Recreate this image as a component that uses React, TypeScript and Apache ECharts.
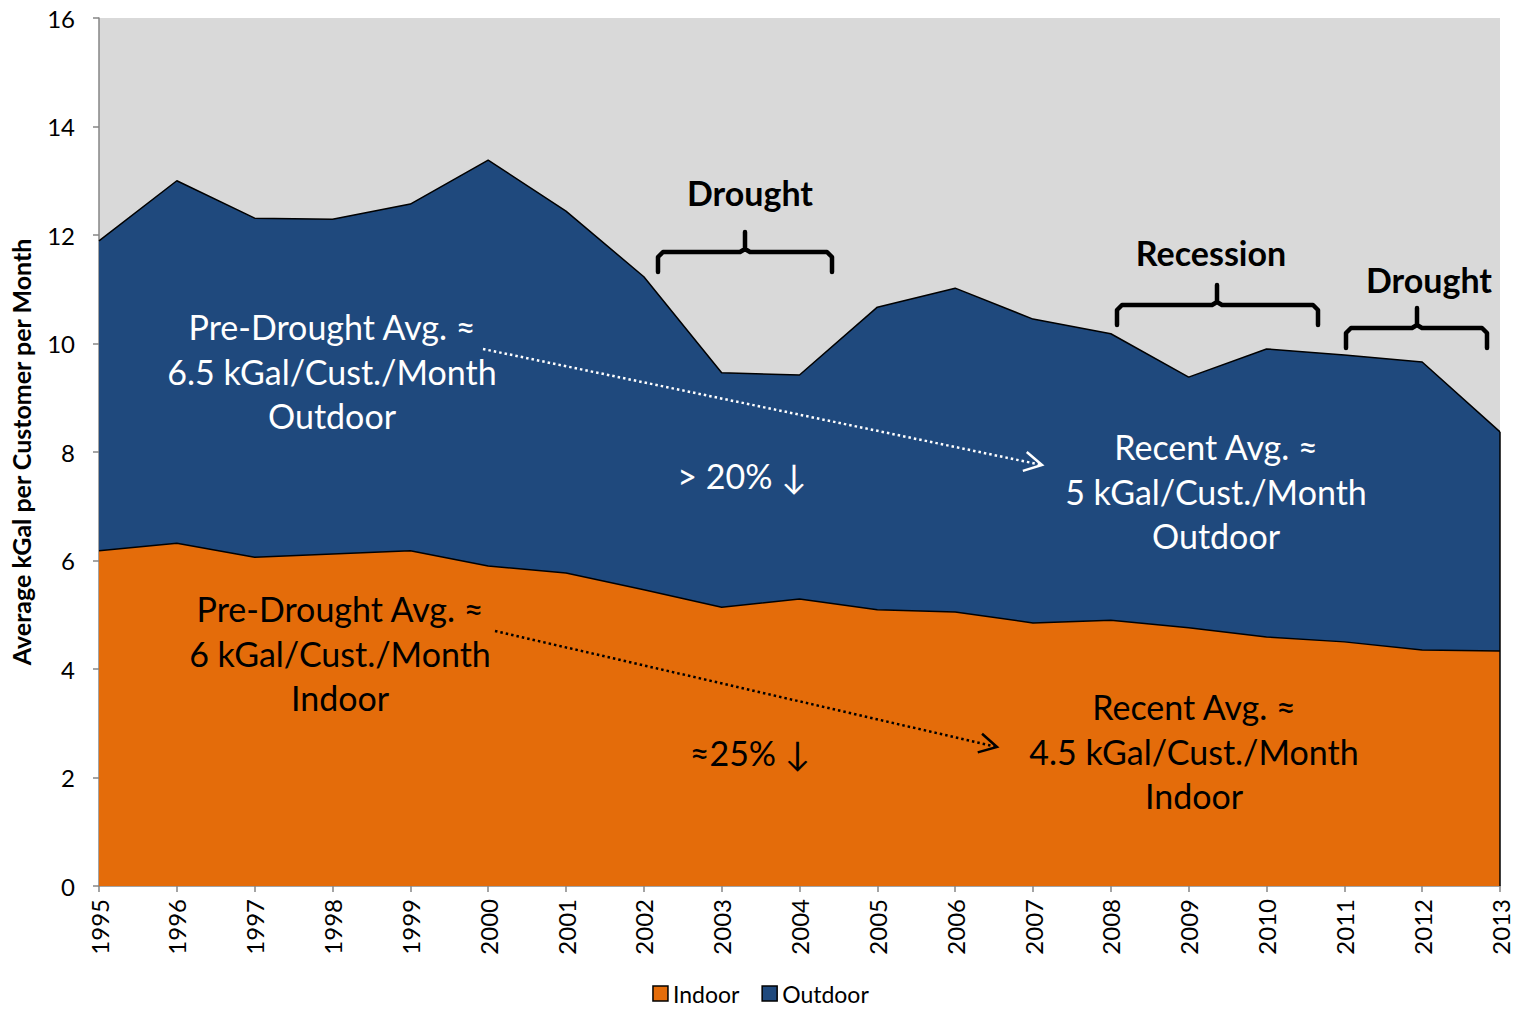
import React, { useEffect, useRef } from "react";
import * as echarts from "echarts";

const years = ["1995","1996","1997","1998","1999","2000","2001","2002","2003","2004","2005","2006","2007","2008","2009","2010","2011","2012","2013"];
const indoor = [6.18,6.32,6.06,6.12,6.18,5.90,5.77,5.46,5.14,5.29,5.09,5.05,4.85,4.90,4.76,4.59,4.50,4.35,4.33];
const outdoor = [5.71,6.68,6.25,6.17,6.39,7.48,6.67,5.77,4.32,4.13,5.58,5.97,5.60,5.28,4.62,5.31,5.29,5.31,4.04];
const yTicks = { min: 0, max: 16, interval: 2 };

const FONT = "Lato, 'Open Sans', sans-serif";

function arrow(x1: number, y1: number, x2: number, y2: number, color: string) {
  const a = Math.atan2(y2 - y1, x2 - x1);
  const len = 20, s = 0.5;
  return [
    { type: "line", shape: { x1, y1, x2, y2 }, style: { stroke: color, lineWidth: 2.5, lineDash: [2.5, 3] }, z: 100 },
    {
      type: "polyline",
      shape: { points: [[x2 - len * Math.cos(a - s), y2 - len * Math.sin(a - s)], [x2, y2], [x2 - len * Math.cos(a + s), y2 - len * Math.sin(a + s)]] },
      style: { stroke: color, lineWidth: 2.5, fill: null },
      z: 100,
    },
  ];
}

function brace(x1: number, x2: number, xm: number, y: number) {
  const d = 20, up = 20, r = 5;
  return {
    type: "polyline",
    shape: {
      points: [
        [x1, y + d], [x1, y + r], [x1 + r, y], [xm - r, y], [xm, y - 3], [xm, y - up],
        [xm, y - 3], [xm + r, y], [x2 - r, y], [x2, y + r], [x2, y + d],
      ],
    },
    style: { stroke: "#000", lineWidth: 4.5, fill: null, lineJoin: "round", lineCap: "round" },
    z: 100,
  };
}

function txt(x: number, y: number, text: string, color: string, bold = false, size = 34) {
  return {
    type: "text", x, y, z: 100,
    style: { text, fill: color, font: `${bold ? "bold " : ""}${size}px ${FONT}`, align: "center", verticalAlign: "middle", lineHeight: 44.5 },
  };
}

export default function App() {
  const ref = useRef<HTMLDivElement>(null);
  useEffect(() => {
    const chart = echarts.init(ref.current!, null, { renderer: "svg" });
    chart.setOption({
      animation: false,
      textStyle: { fontFamily: FONT },
      grid: { left: 96, right: 21, top: 18, bottom: 124, show: true, backgroundColor: "#D9D9D9", borderWidth: 0 },
      legend: {
        top: 982, left: "center", padding: 0,
        data: ["Indoor", "Outdoor"],
        icon: "rect", itemWidth: 15, itemHeight: 15, itemGap: 22,
        itemStyle: { borderColor: "#000", borderWidth: 1.5 },
        textStyle: { fontSize: 23, lineHeight: 23, color: "#000", fontFamily: FONT },
      },
      xAxis: {
        type: "category", data: years, boundaryGap: false,
        axisLine: { lineStyle: { color: "#868686", width: 1.5 } },
        axisTick: { show: true, length: 6, lineStyle: { color: "#868686", width: 1.5 } },
        axisLabel: { rotate: 90, fontSize: 24, color: "#000", margin: 13, interval: 0 },
        splitLine: { show: false },
      },
      yAxis: {
        type: "value", ...yTicks,
        name: "Average kGal per Customer per Month", nameLocation: "middle", nameGap: 66,
        nameTextStyle: { fontSize: 25, fontWeight: "bold", color: "#000" },
        axisLine: { show: true, lineStyle: { color: "#868686", width: 1.5 } },
        axisTick: { show: true, length: 6, lineStyle: { color: "#868686", width: 1.5 } },
        axisLabel: { fontSize: 24, color: "#000", margin: 24 },
        splitLine: { show: false },
      },
      series: [
        {
          name: "Indoor", type: "line", stack: "total", data: indoor, symbol: "none",
          lineStyle: { color: "#000", width: 1.5 },
          itemStyle: { color: "#E46C0A" },
          areaStyle: { color: "#E46C0A", opacity: 1 },
        },
        {
          name: "Outdoor", type: "line", stack: "total", data: outdoor, symbol: "none",
          lineStyle: { color: "#000", width: 1.5 },
          itemStyle: { color: "#1F497D" },
          areaStyle: { color: "#1F497D", opacity: 1 },
        },
      ],
      graphic: [
        txt(332, 371, "Pre-Drought Avg. ≈\n6.5 kGal/Cust./Month\nOutdoor", "#fff"),
        txt(742, 475, "> 20% ↓", "#fff"),
        txt(1216, 491, "Recent Avg. ≈\n5 kGal/Cust./Month\nOutdoor", "#fff"),
        txt(340, 653, "Pre-Drought Avg. ≈\n6 kGal/Cust./Month\nIndoor", "#000"),
        txt(750, 752, "≈25% ↓", "#000"),
        txt(1194, 751, "Recent Avg. ≈\n4.5 kGal/Cust./Month\nIndoor", "#000"),
        txt(750, 192, "Drought", "#000", true),
        txt(1211, 252, "Recession", "#000", true),
        txt(1429, 279, "Drought", "#000", true),
        brace(658, 832, 745, 252),
        brace(1117, 1318, 1217, 305),
        brace(1346, 1487, 1417, 328),
        ...arrow(483, 349, 1042, 465, "#fff"),
        ...arrow(495, 631, 997, 747, "#000"),
        { type: "line", shape: { x1: 1500, y1: 432, x2: 1500, y2: 886 }, style: { stroke: "#000", lineWidth: 1.5 }, z: 50 },
      ],
    });
    return () => chart.dispose();
  }, []);
  return <div ref={ref} style={{ position: "absolute", left: 0, top: 0, width: 1521, height: 1010 }} />;
}
